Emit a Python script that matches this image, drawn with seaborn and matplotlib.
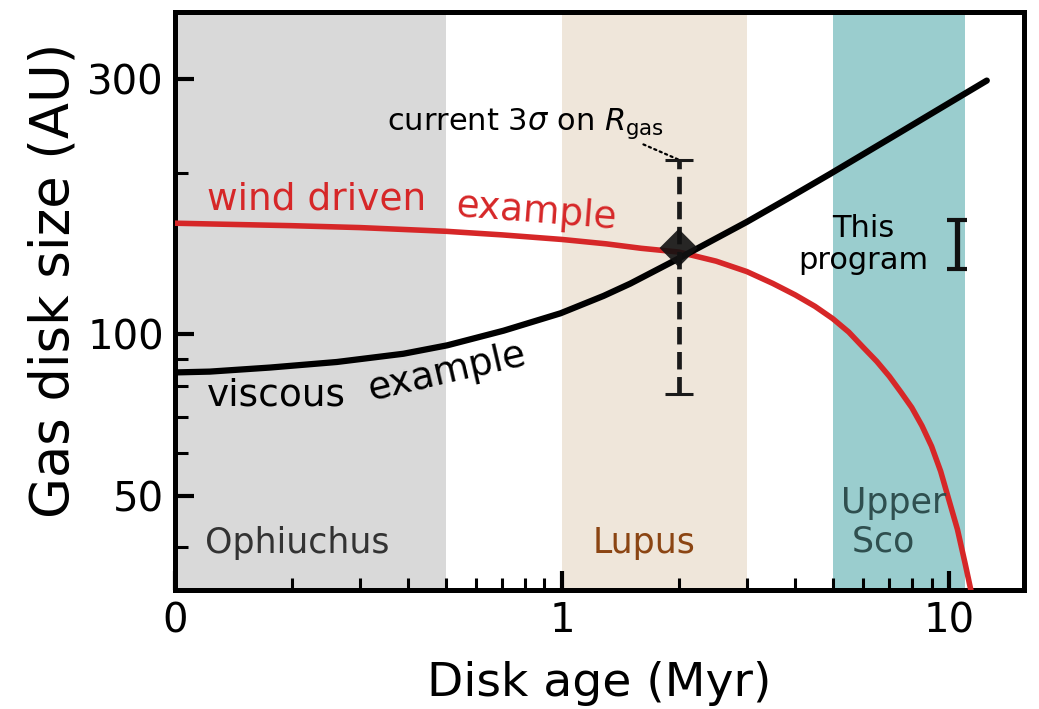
import numpy as np
import pandas as pd
import matplotlib
matplotlib.use("Agg")
import matplotlib.pyplot as plt
from matplotlib.ticker import FixedLocator, FixedFormatter, LogLocator, NullFormatter
import seaborn as sns

sns.set_theme(style="ticks")
plt.rcParams["font.family"] = ["DejaVu Sans"]
plt.rcParams["mathtext.fontset"] = "dejavusans"
for key in ["text.color", "axes.labelcolor", "xtick.color", "ytick.color"]:
    plt.rcParams[key] = "black"

# Viscous-evolution example track (age in Myr, gas radius in AU)
visc_age = [0.1, 0.123, 0.176, 0.262, 0.389, 0.505, 0.706, 0.991, 1.28, 1.5, 2.0,
            3.0, 3.85, 4.9, 7.2, 9.9, 12.5]
visc_R = [84.9, 85.2, 86.7, 88.8, 92.0, 95.4, 101.6, 109.5, 118.0, 124.4, 138.6,
          162.2, 179.8, 199.0, 234.8, 269.4, 297.9]

# Wind-driven example track
wind_age = [0.1, 0.2, 0.3, 0.5, 0.7, 1.0, 1.3, 1.6, 2.0, 2.5, 3.0, 3.5, 4.0, 4.5,
            5.0, 5.5, 6.0, 6.5, 7.0, 7.5, 8.0, 8.5, 9.0, 9.5, 10.0, 10.5, 11.0,
            11.4, 11.7]
wind_R = [161.3, 159.6, 158.3, 155.8, 153.4, 150.4, 147.6, 144.8, 142.5, 137.0,
          131.0, 124.5, 118.5, 112.8, 107.0, 101.0, 94.5, 89.0, 83.5, 78.0, 73.0,
          67.5, 61.8, 55.5, 48.8, 43.2, 37.2, 33.0, 29.8]

# Star-forming regions: age ranges and labels
region_names = ["Ophiuchus", "Lupus", "Upper\n Sco"]
region_start = [0.1, 1.0, 5.0]
region_end = [0.5, 3.0, 11.0]
region_fill = ["#d9d9d9", "#efe6da", "#9acdce"]
region_text = ["#333333", "#8b4513", "#2f4f4f"]

# Current measurement with its 3-sigma range
meas_age = 2.0
meas_R = 145.0
meas_lo = 77.5
meas_hi = 212.0

# Expected precision of this program
prog_age = 10.5
prog_R = 147.0
prog_lo = 132.3
prog_hi = 163.4

x_ticks = [0.1, 1, 10]
x_labels = ["0", "1", "10"]
y_ticks = [50, 100, 300]
y_labels = ["50", "100", "300"]

fig = plt.figure(figsize=(10.39, 7.09), dpi=100)
ax = fig.add_axes([0.1684, 0.1678, 0.8172, 0.8152])
ax.set_xscale("log")
ax.set_yscale("log")

for x0, x1, c in zip(region_start, region_end, region_fill):
    ax.axvspan(x0, x1, color=c, lw=0, zorder=0)

df_visc = pd.DataFrame({"age": visc_age, "R": visc_R})
df_wind = pd.DataFrame({"age": wind_age, "R": wind_R})
sns.lineplot(data=df_wind, x="age", y="R", color="#d62728", lw=4, ax=ax, zorder=3)
sns.lineplot(data=df_visc, x="age", y="R", color="black", lw=4.5, ax=ax, zorder=3)

# 3-sigma range on the current measurement
ax.errorbar([meas_age], [meas_R], yerr=[[meas_R - meas_lo], [meas_hi - meas_R]],
            fmt="none", ecolor="#1a1a1a", elinewidth=3.4, capsize=10, capthick=2.2,
            zorder=4)
eb = ax.containers[-1]
for lc in eb.lines[2]:
    lc.set_linestyle("--")
sns.scatterplot(x=[meas_age], y=[meas_R], marker="D", s=380, color="#111111",
                alpha=0.9, edgecolor="none", ax=ax, zorder=5)

ax.errorbar([prog_age], [prog_R], yerr=[[prog_R - prog_lo], [prog_hi - prog_R]],
            fmt="none", ecolor="#111111", elinewidth=3.8, capsize=7.2, capthick=3, zorder=4)

# Labels
ax.text(0.121, 171.4, "wind driven", color="#d62728", fontsize=27, ha="left", va="baseline")
ax.text(0.531, 166.2, "example", color="#d62728", fontsize=27, ha="left", va="baseline",
        rotation=-4.5, rotation_mode="anchor")
ax.text(0.121, 73.7, "viscous", color="black", fontsize=27, ha="left", va="baseline")
ax.text(0.321, 75.2, "example", color="black", fontsize=27, ha="left", va="baseline",
        rotation=13, rotation_mode="anchor")

ax.annotate(r"current 3$\sigma$ on $R_{\rm gas}$", xy=(meas_age, meas_hi), xytext=(0.352, 240.8),
            fontsize=22, ha="left", va="baseline",
            arrowprops=dict(arrowstyle="-", ls=":", lw=1.6, color="black",
                            shrinkA=0, shrinkB=0, relpos=(0.9, 0.0)))

ax.text(6.0, 132.7, "This\nprogram", fontsize=22, ha="center", va="baseline",
        multialignment="center", linespacing=1.1)

ax.text(0.1196, 39.1, region_names[0], color=region_text[0], fontsize=25, ha="left", va="baseline")
ax.text(1.63, 39.1, region_names[1], color=region_text[1], fontsize=25, ha="center", va="baseline")
ax.text(5.24, 39.3, region_names[2], color=region_text[2], fontsize=25, ha="left", va="baseline",
        multialignment="left", linespacing=1.15)

ax.set_xlim(0.1, 15.6)
ax.set_ylim(33.3, 400)

ax.xaxis.set_major_locator(FixedLocator(x_ticks))
ax.xaxis.set_major_formatter(FixedFormatter(x_labels))
ax.xaxis.set_minor_locator(LogLocator(base=10, subs=np.arange(2, 10)))
ax.xaxis.set_minor_formatter(NullFormatter())
ax.yaxis.set_major_locator(FixedLocator(y_ticks))
ax.yaxis.set_major_formatter(FixedFormatter(y_labels))
ax.yaxis.set_minor_locator(LogLocator(base=10, subs=np.arange(2, 10)))
ax.yaxis.set_minor_formatter(NullFormatter())

ax.tick_params(which="major", direction="in", length=14, width=3, labelsize=29, pad=8,
               top=False, right=False, color="black")
ax.tick_params(which="minor", direction="in", length=9, width=2.2, top=False, right=False,
               color="black")
for s in ax.spines.values():
    s.set_linewidth(3.6)
    s.set_color("black")
    s.set_visible(True)

ax.set_xlabel("Disk age (Myr)", fontsize=34)
ax.set_ylabel("Gas disk size (AU)", fontsize=38)
ax.xaxis.set_label_coords(0.5, -0.122)
ax.yaxis.set_label_coords(-0.112, 0.536)

fig.savefig("out.png", dpi=100)
